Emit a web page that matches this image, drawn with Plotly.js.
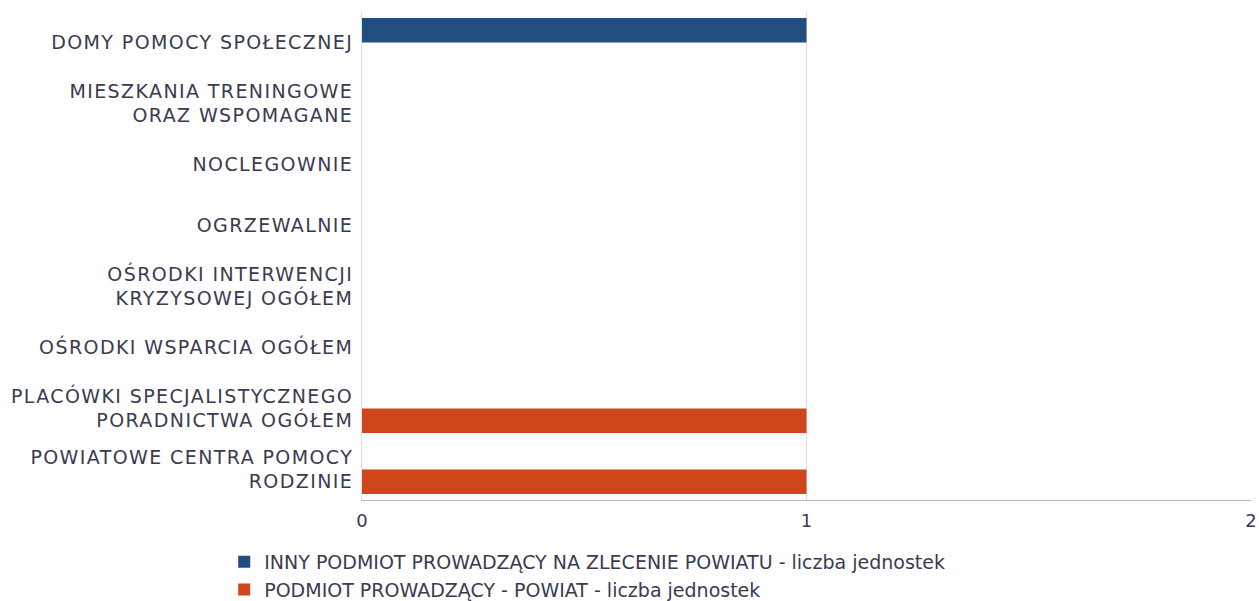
<!DOCTYPE html>
<html>
<head>
<meta charset="utf-8">
<script src="https://cdn.plot.ly/plotly-3.0.1.min.js"></script>
<style>
  html, body { margin: 0; padding: 0; background: #ffffff; }
  #chart { width: 1259px; height: 601px; }
  /* the source font is wider than DejaVu Sans, open the spacing a little */
  #chart .ytick text { letter-spacing: 1.4px; }
</style>
</head>
<body>
<div id="chart"></div>
<script>
// Categories (top to bottom) and the two series, counts of units
const categories = [
    'DOMY POMOCY SPOŁECZNEJ',
    'MIESZKANIA TRENINGOWE<br>ORAZ WSPOMAGANE',
    'NOCLEGOWNIE',
    'OGRZEWALNIE',
    'OŚRODKI INTERWENCJI<br>KRYZYSOWEJ OGÓŁEM',
    'OŚRODKI WSPARCIA OGÓŁEM',
    'PLACÓWKI SPECJALISTYCZNEGO<br>PORADNICTWA OGÓŁEM',
    'POWIATOWE CENTRA POMOCY<br>RODZINIE'
];
const seriesNames = [
    'INNY PODMIOT PROWADZĄCY NA ZLECENIE POWIATU - liczba jednostek',
    'PODMIOT PROWADZĄCY - POWIAT - liczba jednostek'
];
const innyPodmiot = [1, 0, 0, 0, 0, 0, 0, 0];
const powiat = [0, 0, 0, 0, 0, 0, 1, 1];
const xTicks = [0, 1, 2];

const textColor = '#3b3b50';
const fontFamily = '"DejaVu Sans", Verdana, sans-serif';

const data = [
    {
        type: 'bar',
        orientation: 'h',
        name: seriesNames[0],
        y: categories,
        x: innyPodmiot,
        marker: { color: '#224d7f', line: { width: 0 } },
        hoverinfo: 'x+y'
    },
    {
        type: 'bar',
        orientation: 'h',
        name: seriesNames[1],
        y: categories,
        x: powiat,
        marker: { color: '#d0461c', line: { width: 0 } },
        hoverinfo: 'x+y'
    }
];

const layout = {
    width: 1259,
    height: 601,
    barmode: 'group',
    bargap: 0.2,
    bargroupgap: 0,
    paper_bgcolor: '#ffffff',
    plot_bgcolor: '#ffffff',
    font: { family: fontFamily, size: 19, color: textColor },
    margin: { l: 362, r: 8, t: 12, b: 101, autoexpand: false },
    xaxis: {
        range: [0, 2],
        tickvals: xTicks,
        ticktext: xTicks.map(String),
        showgrid: true,
        gridcolor: '#dcdce2',
        gridwidth: 1,
        zeroline: false,
        showline: true,
        linecolor: '#b8b8c4',
        linewidth: 1,
        ticks: '',
        ticklabelstandoff: 4,
        tickfont: { size: 18, color: textColor },
        automargin: false,
        fixedrange: true
    },
    yaxis: {
        autorange: 'reversed',
        type: 'category',
        showgrid: false,
        zeroline: false,
        showline: true,
        linecolor: '#dcdce2',
        linewidth: 1,
        ticks: '',
        ticklabelstandoff: 4,
        tickfont: { size: 19, color: textColor },
        automargin: false,
        fixedrange: true
    },
    showlegend: true,
    legend: {
        orientation: 'v',
        x: -0.155,
        xanchor: 'left',
        y: -0.088,
        yanchor: 'top',
        font: { size: 19, color: textColor },
        bgcolor: 'rgba(0,0,0,0)',
        tracegroupgap: 0,
        itemwidth: 30
    }
};

Plotly.newPlot('chart', data, layout, { displayModeBar: false, responsive: false });
</script>
</body>
</html>
